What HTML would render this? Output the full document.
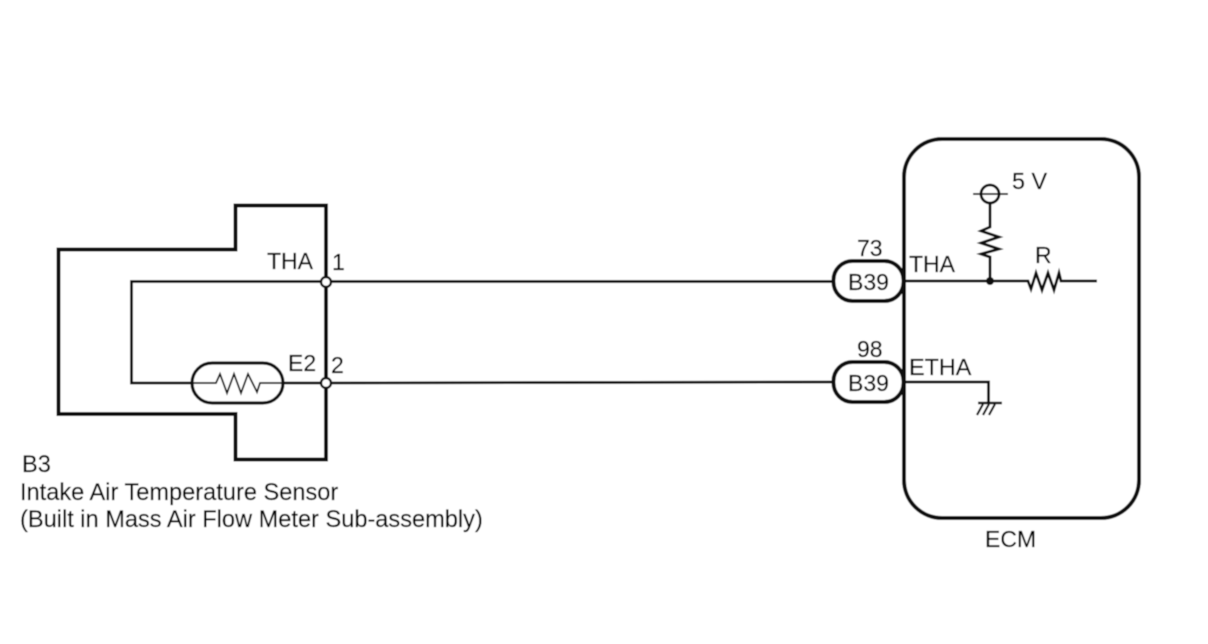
<!DOCTYPE html>
<html><head><meta charset="utf-8"><style>
html,body{margin:0;padding:0;background:#fff;width:1208px;height:644px;overflow:hidden}
svg{display:block}
text{font-family:"Liberation Sans",sans-serif;font-size:23px;fill:#000;stroke:#000;stroke-width:0.2px}
text.l{font-size:23.6px}
</style></head><body>
<svg width="1208" height="644" viewBox="0 0 1208 644" xmlns="http://www.w3.org/2000/svg">
<defs><filter id="b" x="0" y="0" width="100%" height="100%" filterUnits="objectBoundingBox"><feGaussianBlur stdDeviation="0.45"/></filter></defs>
<g filter="url(#b)">
<rect x="0" y="0" width="1208" height="644" fill="#fff"/>
<g fill="none" stroke="#0e0e0e" stroke-linejoin="miter">
<path d="M326 205.500H235.500V249.500H58.500V414H235.500V459.500H326V205.500Z" stroke-width="4"/>
<path d="M326 281.500H131.500V383H192" stroke-width="2.800"/>
<path d="M283 383H326" stroke-width="2.800"/>
<path d="M192 383H216L220 374L227 393L234 374L241 393L248 374L257 392L260 383H283" stroke-width="1.800"/>
<rect x="192" y="363" width="91" height="40" rx="20" stroke-width="3.200"/>
<path d="M326 281.500H834" stroke-width="2.800"/>
<path d="M326 383L834 382" stroke-width="2.800"/>
<rect x="904" y="139" width="235" height="379" rx="38" stroke-width="4"/>
<rect x="833.500" y="261" width="70" height="40" rx="19" fill="#fff" stroke-width="4"/>
<rect x="833.500" y="362" width="70" height="40" rx="19" fill="#fff" stroke-width="4"/>
<path d="M904 281H1028L1031 289L1036 273L1042 290L1048 273L1054 290L1059 273L1061 281H1097" stroke-width="2.800"/>
<path d="M990 204V227L981 231L999 237L981 243L999 249L981 254L990 257V281" stroke-width="2.800"/>
<circle cx="990" cy="194" r="9" stroke-width="2.800"/>
<path d="M973 194H1008" stroke-width="1.800"/>
<path d="M904 382H988.500V402" stroke-width="2.800"/>
<path d="M978 403H1002" stroke-width="2.400"/>
<path d="M983 404L977 415M989 404L983 415M995 404L989 415" stroke-width="2.200"/>
</g>
<circle cx="326" cy="282" r="5" fill="#fff" stroke="#0e0e0e" stroke-width="2.400"/>
<circle cx="326" cy="383" r="5" fill="#fff" stroke="#0e0e0e" stroke-width="2.400"/>
<circle cx="990" cy="281" r="4" fill="#0e0e0e"/>
<text x="267" y="269">THA</text>
<text x="332" y="270">1</text>
<text x="288" y="371">E2</text>
<text x="331" y="373">2</text>
<text x="857" y="256">73</text>
<text x="857" y="357">98</text>
<text x="848" y="290">B39</text>
<text x="848" y="391">B39</text>
<text x="909" y="272">THA</text>
<text x="909" y="375" style="font-size:23.4px">ETHA</text>
<text x="1012" y="189" style="font-size:23.4px">5 V</text>
<text x="1035" y="263">R</text>
<text x="985" y="547">ECM</text>
<text class="l" x="22" y="472">B3</text>
<text class="l" x="20" y="500">Intake Air Temperature Sensor</text>
<text class="l" x="20" y="527">(Built in Mass Air Flow Meter Sub-assembly)</text>
</g>
</svg>
</body></html>
